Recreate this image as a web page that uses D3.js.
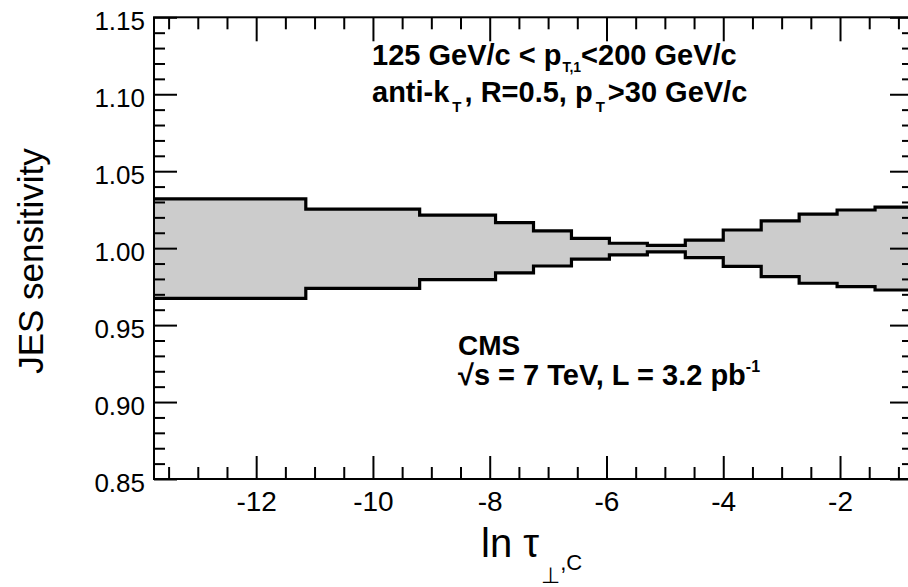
<!DOCTYPE html>
<html>
<head>
<meta charset="utf-8">
<script src="https://cdn.jsdelivr.net/npm/d3@7"></script>
<style>
  html, body { margin: 0; padding: 0; background: #fff; }
  svg { display: block; font-family: "Liberation Sans", Arial, Helvetica, sans-serif; }
</style>
</head>
<body>
<svg id="chart" width="908" height="587"></svg>
<script>
// Bin edges in ln(tau_perp,C) and the JES up/down variations per bin
const binEdges = [-13.75, -11.15, -9.2, -7.9, -7.25, -6.6, -5.95, -5.3, -4.65, -4.0, -3.35, -2.7, -2.05, -1.4, -0.75];
const upperValues = [1.0320, 1.0253, 1.0214, 1.0166, 1.0112, 1.0064, 1.0032, 1.0018, 1.0052, 1.0118, 1.0177, 1.0221, 1.0248, 1.0266];
const lowerValues = [0.9674, 0.9739, 0.9796, 0.9839, 0.9884, 0.9929, 0.9956, 0.9976, 0.9939, 0.9882, 0.9815, 0.9772, 0.9750, 0.9728];

const xMajorTicks = [-12, -10, -8, -6, -4, -2];
const xMinorTicks = d3.range(-13.5, -0.74, 0.5).filter(v => Math.abs(v % 2) > 1e-6);
const yMajorTicks = [0.85, 0.90, 0.95, 1.00, 1.05, 1.10, 1.15];
const yMinorTicks = d3.range(0.86, 1.15, 0.01).filter(v => Math.abs(Math.round(v * 100) % 5) !== 0);

const frame = { left: 154, right: 913, top: 17.3, bottom: 479 };
const svg = d3.select("#chart");

const x = d3.scaleLinear().domain([-13.75, -0.75]).range([frame.left, frame.right]);
const y = d3.scaleLinear().domain([0.85, 1.15]).range([frame.bottom, frame.top]);

// Step points: each bin value held from its left edge to its right edge
function steps(values) {
  const pts = values.map((v, i) => [binEdges[i], v]);
  pts.push([binEdges[binEdges.length - 1], values[values.length - 1]]);
  return pts;
}
const bandRows = binEdges.map((e, i) => {
  const k = Math.min(i, upperValues.length - 1);
  return { x: e, hi: upperValues[k], lo: lowerValues[k] };
});

// Shaded band
svg.append("path")
  .datum(bandRows)
  .attr("fill", "#cccccc")
  .attr("d", d3.area().curve(d3.curveStepAfter)
    .x(d => x(d.x)).y0(d => y(d.lo)).y1(d => y(d.hi)));

const stepLine = d3.line().curve(d3.curveStepAfter).x(d => x(d[0])).y(d => y(d[1]));
[upperValues, lowerValues].forEach(vals => {
  svg.append("path")
    .datum(steps(vals))
    .attr("fill", "none")
    .attr("stroke", "#000")
    .attr("stroke-width", 3.2)
    .attr("d", stepLine);
});

// Frame
svg.append("rect")
  .attr("x", frame.left).attr("y", frame.top)
  .attr("width", frame.right - frame.left).attr("height", frame.bottom - frame.top)
  .attr("fill", "none").attr("stroke", "#000").attr("stroke-width", 2);

function styleAxis(g) {
  g.select(".domain").remove();
  g.selectAll(".tick line").attr("stroke", "#000").attr("stroke-width", 2);
}

// Bottom axis with labels, ticks pointing inward
const bottom = svg.append("g").attr("transform", `translate(0,${frame.bottom})`)
  .call(d3.axisBottom(x).tickValues(xMajorTicks).tickSize(-23).tickPadding(0).tickFormat(d => String(d)));
styleAxis(bottom);
bottom.selectAll(".tick text")
  .attr("y", 32).attr("dy", 0)
  .attr("font-size", 28).attr("fill", "#000")
  .attr("font-family", "'Liberation Sans', Arial, sans-serif");
svg.append("g").attr("transform", `translate(0,${frame.bottom})`)
  .call(d3.axisBottom(x).tickValues(xMinorTicks).tickSize(-12).tickFormat(""))
  .call(styleAxis);

// Top mirror ticks
svg.append("g").attr("transform", `translate(0,${frame.top})`)
  .call(d3.axisTop(x).tickValues(xMajorTicks).tickSize(-24).tickFormat(""))
  .call(styleAxis);
svg.append("g").attr("transform", `translate(0,${frame.top})`)
  .call(d3.axisTop(x).tickValues(xMinorTicks).tickSize(-12).tickFormat(""))
  .call(styleAxis);

// Left axis with labels
const left = svg.append("g").attr("transform", `translate(${frame.left},0)`)
  .call(d3.axisLeft(y).tickValues(yMajorTicks).tickSize(-23).tickPadding(0).tickFormat(d3.format(".2f")));
styleAxis(left);
left.selectAll(".tick text")
  .attr("x", -9).attr("dy", 12.3)
  .attr("font-size", 26).attr("fill", "#000")
  .attr("font-family", "'Liberation Sans', Arial, sans-serif");
svg.append("g").attr("transform", `translate(${frame.left},0)`)
  .call(d3.axisLeft(y).tickValues(yMinorTicks).tickSize(-11).tickFormat(""))
  .call(styleAxis);

// Right mirror ticks
svg.append("g").attr("transform", `translate(${frame.right},0)`)
  .call(d3.axisRight(y).tickValues(yMajorTicks).tickSize(-23).tickFormat(""))
  .call(styleAxis);
svg.append("g").attr("transform", `translate(${frame.right},0)`)
  .call(d3.axisRight(y).tickValues(yMinorTicks).tickSize(-11).tickFormat(""))
  .call(styleAxis);

// Axis titles
svg.append("text")
  .attr("transform", "translate(43,261) rotate(-90)")
  .attr("text-anchor", "middle")
  .attr("font-size", 35)
  .text("JES sensitivity");

const xt = svg.append("text").attr("x", 481).attr("y", 557).attr("font-size", 40);
xt.append("tspan").text("ln τ");
xt.append("tspan").attr("font-family", "'DejaVu Sans', sans-serif").attr("font-size", 22).attr("dx", 2).attr("dy", 26).text("⊥");
xt.append("tspan").attr("font-size", 22).attr("dy", -13).text(",C");

// Selection annotations
const t1 = svg.append("text").attr("x", 372).attr("y", 65).attr("font-size", 29).attr("font-weight", "bold");
t1.append("tspan").text("125 GeV/c < p");
t1.append("tspan").attr("font-size", 14).attr("dx", 1).attr("dy", 7).text("T,1");
t1.append("tspan").attr("dy", -7).text("<200 GeV/c");

const t2 = svg.append("text").attr("x", 372).attr("y", 102).attr("font-size", 29).attr("font-weight", "bold");
t2.append("tspan").text("anti-k");
t2.append("tspan").attr("font-size", 15).attr("dx", 3).attr("dy", 10).text("T");
t2.append("tspan").attr("dx", 3).attr("dy", -10).text(", R=0.5, p");
t2.append("tspan").attr("font-size", 15).attr("dx", 3).attr("dy", 10).text("T");
t2.append("tspan").attr("dx", 3).attr("dy", -10).text(">30 GeV/c");

svg.append("text").attr("x", 458).attr("y", 355).attr("font-size", 28).attr("font-weight", "bold").text("CMS");
const t4 = svg.append("text").attr("x", 458).attr("y", 385).attr("font-size", 29).attr("font-weight", "bold");
t4.append("tspan").text("√s = 7 TeV, L = 3.2 pb");
t4.append("tspan").attr("font-size", 16).attr("dy", -13).text("-1");
</script>
</body>
</html>
